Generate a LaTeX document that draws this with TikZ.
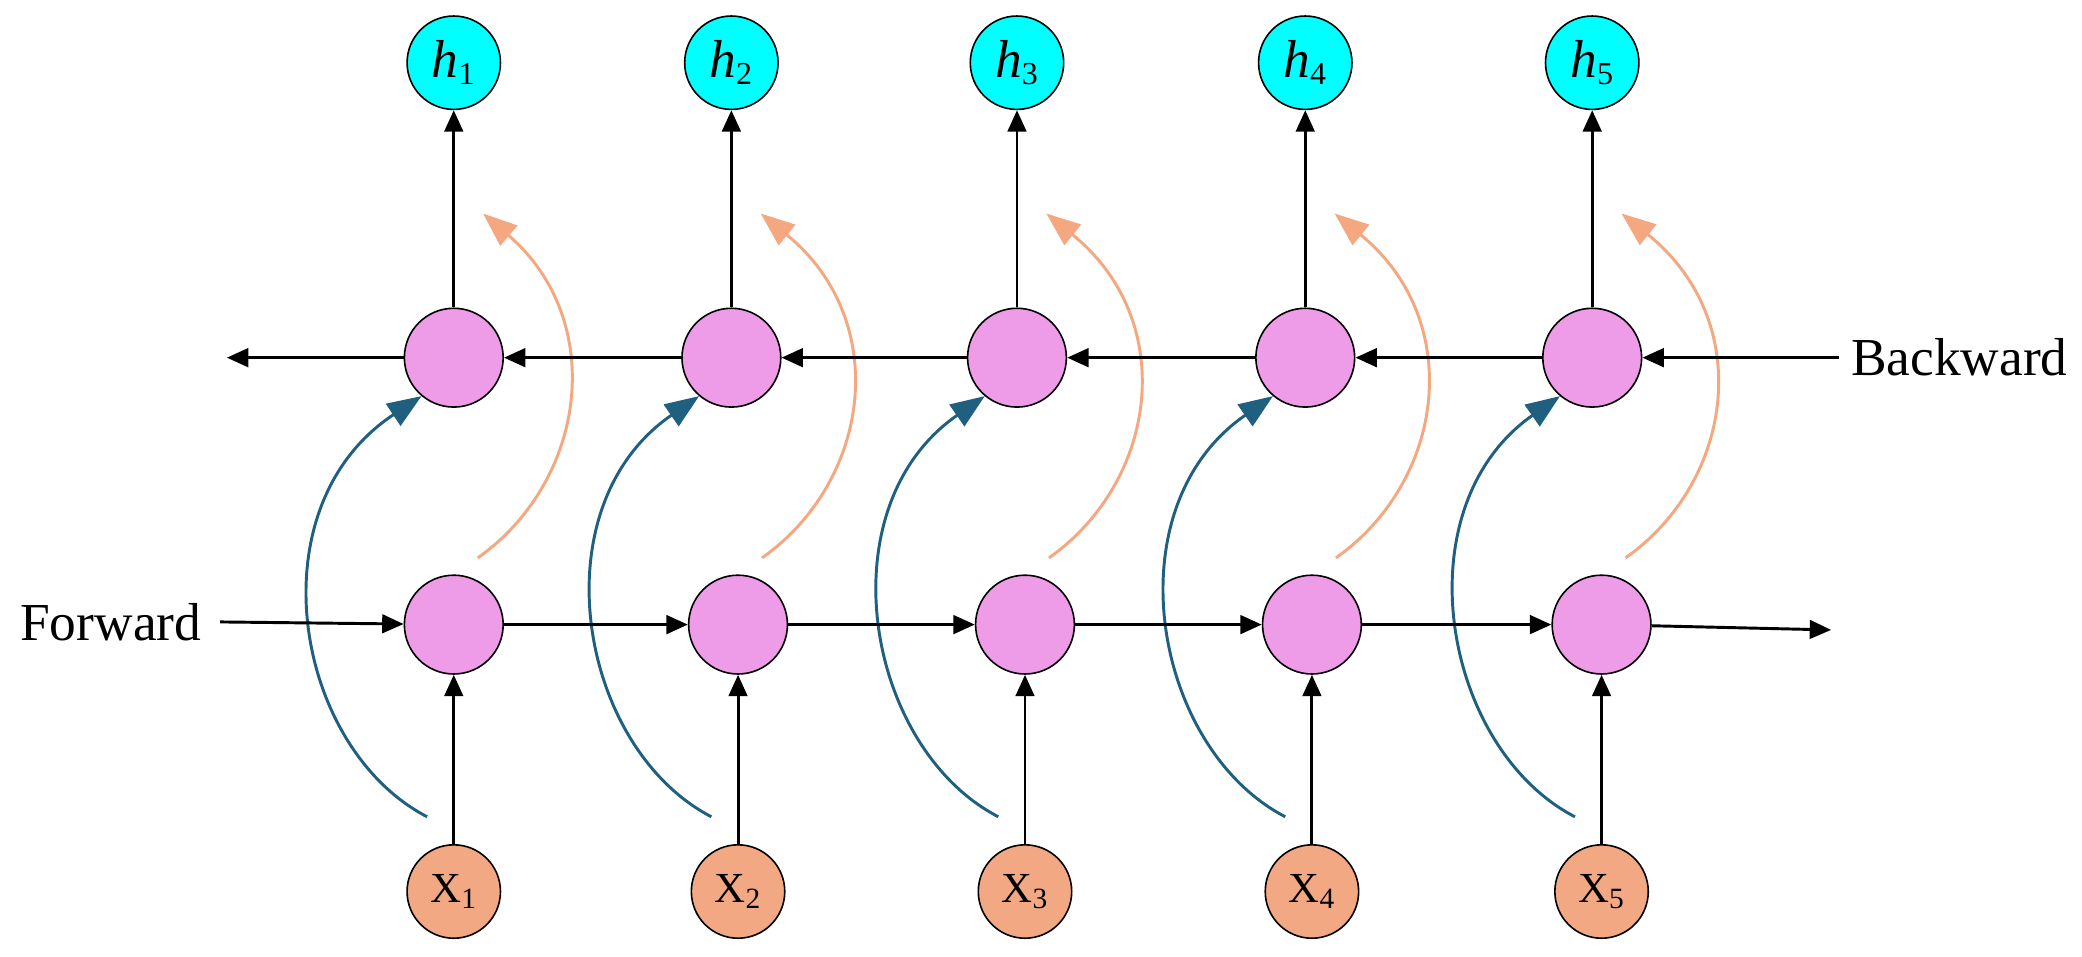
\documentclass[tikz,border=0pt]{standalone}
\usepackage{fontspec}
\setmainfont{Liberation Serif}
\usetikzlibrary{arrows.meta}
\definecolor{cy}{HTML}{00FFFF}
\definecolor{pk}{HTML}{EE9CE8}
\definecolor{og}{HTML}{F2A983}
\definecolor{bl}{HTML}{1F5F80}
\definecolor{oa}{HTML}{F5A780}
\begin{document}
\begin{tikzpicture}[x=0.6673pt,y=-0.6673pt,
 cell/.style={circle,draw=black,line width=0.8pt,minimum size=49.4pt,inner sep=0pt},
 hn/.style={cell,fill=cy,minimum size=46.7pt,font=\fontsize{26.7}{26.7}\selectfont\itshape},
 xn/.style={cell,fill=og,minimum size=46.7pt,font=\fontsize{21.4}{21.4}\selectfont},
 st/.style={cell,fill=pk},
 ar/.style={line width=1.47pt,-{Triangle[length=10.7pt,width=9.3pt]}},
 ba/.style={line width=1.47pt,draw=bl,-{Triangle[length=17pt,width=13pt]},fill=none},
 oaa/.style={line width=1.47pt,draw=oa,-{Triangle[length=17pt,width=13pt]},fill=none},
 lab/.style={font=\fontsize{26.7}{26.7}\selectfont}]
\useasboundingbox (0,0) rectangle (1560,717);
\foreach \i/\bx/\fx in {1/340/340,2/548/553,3/762/768,4/978/983,5/1193/1200}{
  \node[hn] (h\i) at (\bx,47) {h\textsubscript{\upshape\fontsize{16}{16}\selectfont\i}};
  \node[st] (b\i) at (\bx,268) {};
  \node[st] (f\i) at (\fx,468) {};
  \node[xn] (x\i) at (\fx,668) {X\textsubscript{\fontsize{14.7}{14.7}\selectfont\i}};
  \draw[ar] (b\i) -- (h\i);
  \draw[ar] (x\i) -- (f\i);
  \coordinate (bs\i) at (\fx-20,612);
  \coordinate (os\i) at (\fx+18,418);
  \coordinate (oe\i) at (\bx+22,160);
  \draw[ba] (bs\i) .. controls (\fx-120,560) and (\fx-150,380) .. (b\i.230);
  \draw[oaa] (os\i) .. controls (\fx+100,360) and (\fx+115,240) .. (oe\i);
}
\foreach \a/\b in {1/2,2/3,3/4,4/5}{
  \draw[ar] (f\a) -- (f\b);
  \draw[ar] (b\b) -- (b\a);
}
\node[lab] (fw) at (83,466) {Forward};
\node[lab] (bw) at (1468,268) {Backward};
\coordinate (fs) at (165,466);
\coordinate (fe) at (1372,472);
\coordinate (bs) at (1378,268);
\coordinate (be) at (170,268);
\draw[ar] (fs) -- (f1);
\draw[ar] (f5) -- (fe);
\draw[ar] (bs) -- (b5);
\draw[ar] (b1) -- (be);
\end{tikzpicture}
\end{document}
